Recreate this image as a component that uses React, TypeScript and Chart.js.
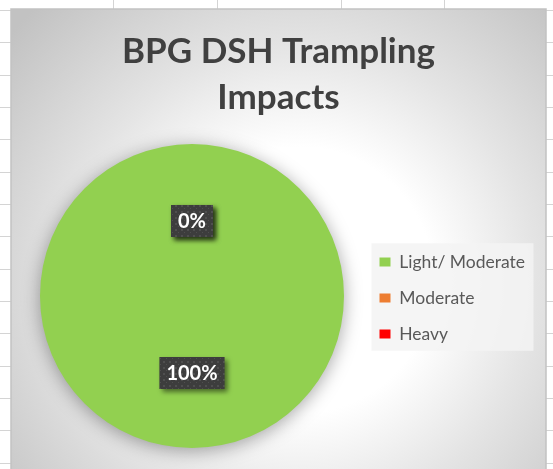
import React, { useEffect, useRef } from 'react';
import { Chart, registerables } from 'chart.js';

Chart.register(...registerables);

const TITLE_LINES = ['BPG DSH Trampling', 'Impacts'];
const CATEGORIES = ['Light/ Moderate', 'Moderate', 'Heavy'];
const VALUES = [100, 0, 0];
const COLORS = ['#92D050', '#ED7D31', '#FF0000'];

const GRID_X = [113.5, 217.5, 341.5, 444.5];

function makeDotPattern(ctx: CanvasRenderingContext2D) {
  const c = document.createElement('canvas');
  c.width = 6;
  c.height = 6;
  const p = c.getContext('2d')!;
  p.fillStyle = '#3d3d3d';
  p.fillRect(0, 0, 6, 6);
  p.fillStyle = '#4f4f4f';
  p.fillRect(1, 1, 2, 2);
  p.fillRect(4, 4, 1, 1);
  return ctx.createPattern(c, 'repeat');
}

export default function App() {
  const ref = useRef<HTMLCanvasElement>(null);

  useEffect(() => {
    document.body.style.margin = '0';
    const canvas = ref.current!;

    const bgPlugin = {
      id: 'sheetBackground',
      afterInit(chart: any) {
        const lg = chart.legend;
        if (lg) {
          const orig = lg.fit;
          lg.fit = function () {
            orig.call(this);
            this.width = 173;
          };
        }
      },
      afterLayout(chart: any) {
        const lg = chart.legend;
        if (lg) {
          lg.left -= 11;
          lg.right -= 11;
          lg.top += 2;
          lg.bottom += 2;
        }
      },
      beforeDraw(chart: any) {
        const ctx = chart.ctx as CanvasRenderingContext2D;
        const W = chart.width;
        const H = chart.height;
        ctx.save();
        ctx.fillStyle = '#ffffff';
        ctx.fillRect(0, 0, W, H);
        ctx.strokeStyle = '#d4d4d4';
        ctx.lineWidth = 1;
        ctx.beginPath();
        for (let k = 0; k < 16; k++) {
          const y = Math.round(10 + k * 32.33) + 0.5;
          ctx.moveTo(0, y);
          ctx.lineTo(W, y);
        }
        for (const x of GRID_X) {
          ctx.moveTo(x, 0);
          ctx.lineTo(x, H);
        }
        ctx.stroke();

        // chart box
        const bx = 11, by = 9, bw = 535, bh = H - by + 4;
        const g = ctx.createRadialGradient(300, 280, 0, 300, 280, 380);
        g.addColorStop(0, '#ffffff');
        g.addColorStop(0.35, '#ffffff');
        g.addColorStop(0.62, '#e4e4e4');
        g.addColorStop(1, '#c2c2c2');
        ctx.fillStyle = g;
        ctx.fillRect(bx, by, bw, bh);
        ctx.strokeStyle = '#c2c2c2';
        ctx.lineWidth = 1.5;
        ctx.strokeRect(bx, by, bw, bh);

        // legend background
        const lg = chart.legend;
        if (lg && lg.legendHitBoxes && lg.legendHitBoxes.length) {
          const hb = lg.legendHitBoxes;
          const first = hb[0];
          const last = hb[hb.length - 1];
          const x0 = first.left - 8;
          const y0 = first.top - 10;
          const y1 = last.top + last.height + 8;
          ctx.fillStyle = 'rgba(243,243,243,0.85)';
          ctx.fillRect(x0, y0, 162, y1 - y0);
        }
        ctx.restore();
      },
      beforeDatasetsDraw(chart: any) {
        const ctx = chart.ctx as CanvasRenderingContext2D;
        ctx.save();
        ctx.shadowColor = 'rgba(0,0,0,0.35)';
        ctx.shadowBlur = 18;
        ctx.shadowOffsetX = 0;
        ctx.shadowOffsetY = 3;
      },
      afterDatasetsDraw(chart: any) {
        const ctx = chart.ctx as CanvasRenderingContext2D;
        ctx.restore();
        const meta = chart.getDatasetMeta(0);
        const total = VALUES.reduce((a, b) => a + b, 0);
        const pattern = makeDotPattern(ctx);
        ctx.save();
        ctx.font = 'bold 20px Lato';
        ctx.textAlign = 'center';
        ctx.textBaseline = 'middle';
        meta.data.forEach((arc: any, i: number) => {
          const p = arc.getCenterPoint();
          const text = Math.round((VALUES[i] / total) * 100) + '%';
          const tw = ctx.measureText(text).width;
          const w = tw + 14;
          const h = 32;
          ctx.save();
          ctx.shadowColor = 'rgba(0,0,0,0.5)';
          ctx.shadowBlur = 5;
          ctx.shadowOffsetX = 3;
          ctx.shadowOffsetY = 3;
          ctx.fillStyle = pattern || '#3d3d3d';
          ctx.fillRect(p.x - w / 2, p.y - h / 2 + 1, w, h);
          ctx.restore();
          ctx.fillStyle = '#ffffff';
          ctx.fillText(text, p.x, p.y + 2);
        });
        ctx.restore();
      },
    };

    const chart = new Chart(canvas, {
      type: 'pie',
      data: {
        labels: CATEGORIES,
        datasets: [
          {
            data: VALUES,
            backgroundColor: COLORS,
            borderWidth: 0,
            clip: false,
          } as any,
        ],
      },
      options: {
        responsive: false,
        devicePixelRatio: 1,
        animation: false,
        layout: { padding: { top: 29, left: 12, right: 8, bottom: 21 } },
        plugins: {
          title: {
            display: true,
            text: TITLE_LINES,
            color: '#404040',
            font: { family: 'Lato', size: 35, weight: 'bold', lineHeight: 46 / 35 },
            padding: { top: 0, bottom: 23 },
          },
          legend: {
            display: true,
            position: 'right',
            fullSize: false,
            align: 'center',
            labels: {
              color: '#595959',
              font: { family: 'Lato', size: 17.5 },
              boxWidth: 11,
              boxHeight: 9,
              padding: 18.5,
            },
          },
          tooltip: { enabled: false },
        },
      } as any,
      plugins: [bgPlugin],
    });

    return () => chart.destroy();
  }, []);

  return (
    <div style={{ width: 553, height: 469 }}>
      <canvas ref={ref} width={553} height={469} style={{ display: 'block' }} />
    </div>
  );
}
